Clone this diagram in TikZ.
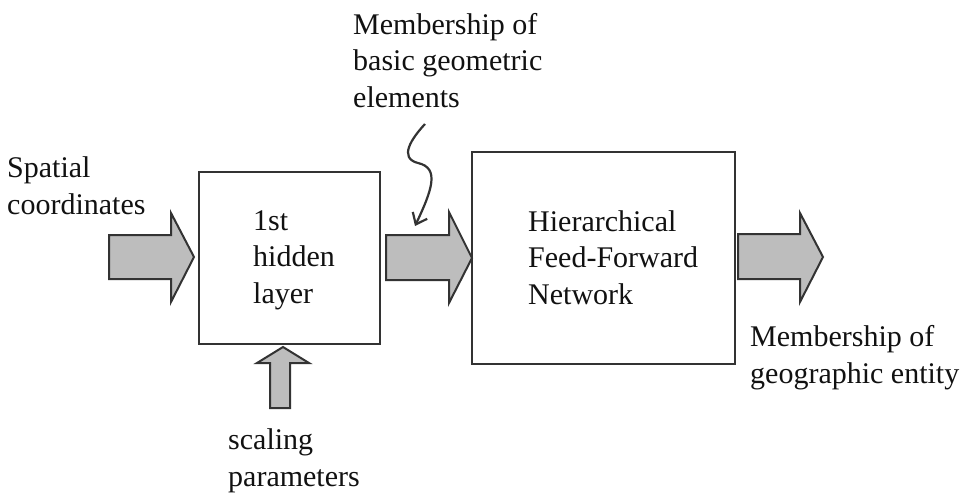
\documentclass[tikz,border=0pt]{standalone}
\usepackage{fontspec}
\setmainfont{Liberation Serif}
\usetikzlibrary{arrows.meta}
\definecolor{edge}{HTML}{333333}
\definecolor{arrowfill}{HTML}{BDBDBD}
\definecolor{ink}{HTML}{111111}
\tikzset{
  blockbox/.style={draw=edge, line width=2pt},
  fatarrow/.style={draw=edge, fill=arrowfill, line width=2pt, line join=miter},
  lbl/.style={anchor=base west, align=left, inner sep=0pt, text=ink,
    font=\fontsize{30pt}{36.5pt}\selectfont},
  squiggle/.style={draw=edge, line width=2.2pt, -{Straight Barb[length=10pt,width=16pt,line width=2.2pt]}}
}
\begin{document}
\begin{tikzpicture}[x=1pt,y=-1pt]
\useasboundingbox (0,0) rectangle (962,493);
% boxes
\draw[blockbox] (199,172) rectangle (380,344);
\draw[blockbox] (472,152) rectangle (735,364);
% block arrows
\draw[fatarrow] (109,235) -- (171,235) -- (171,213) -- (194,257) -- (171,302) -- (171,279) -- (109,279) -- cycle;
\draw[fatarrow] (386,235) -- (449,235) -- (449,212) -- (472,258) -- (449,303) -- (449,280) -- (386,280) -- cycle;
\draw[fatarrow] (738,234) -- (800,234) -- (800,213) -- (823,257) -- (800,302) -- (800,279) -- (738,279) -- cycle;
\draw[fatarrow] (270,408) -- (270,363) -- (257,363) -- (283,347) -- (309,363) -- (290,363) -- (290,408) -- cycle;
% labels (anchored at the baseline of the last line)
\node[lbl] (spatial) at (7,214) {Spatial\\coordinates};
\node[lbl] (hidden) at (253,303) {1st\\hidden\\layer};
\node[lbl] (basic) at (353,107) {Membership of\\basic geometric\\elements};
\node[lbl] (hffn) at (528,304) {Hierarchical\\Feed-Forward\\Network};
\node[lbl] (geo) at (750,383) {Membership of\\geographic entity};
\node[lbl] (scal) at (228,486) {scaling\\parameters};
% squiggly pointer
\coordinate (sqs) at (425,124);
\coordinate (sqe) at (415,226);
\draw[squiggle] (sqs) .. controls (412,138) and (398,158) .. (418,163)
  .. controls (440,168) and (432,190) .. (sqe);
\end{tikzpicture}
\end{document}
